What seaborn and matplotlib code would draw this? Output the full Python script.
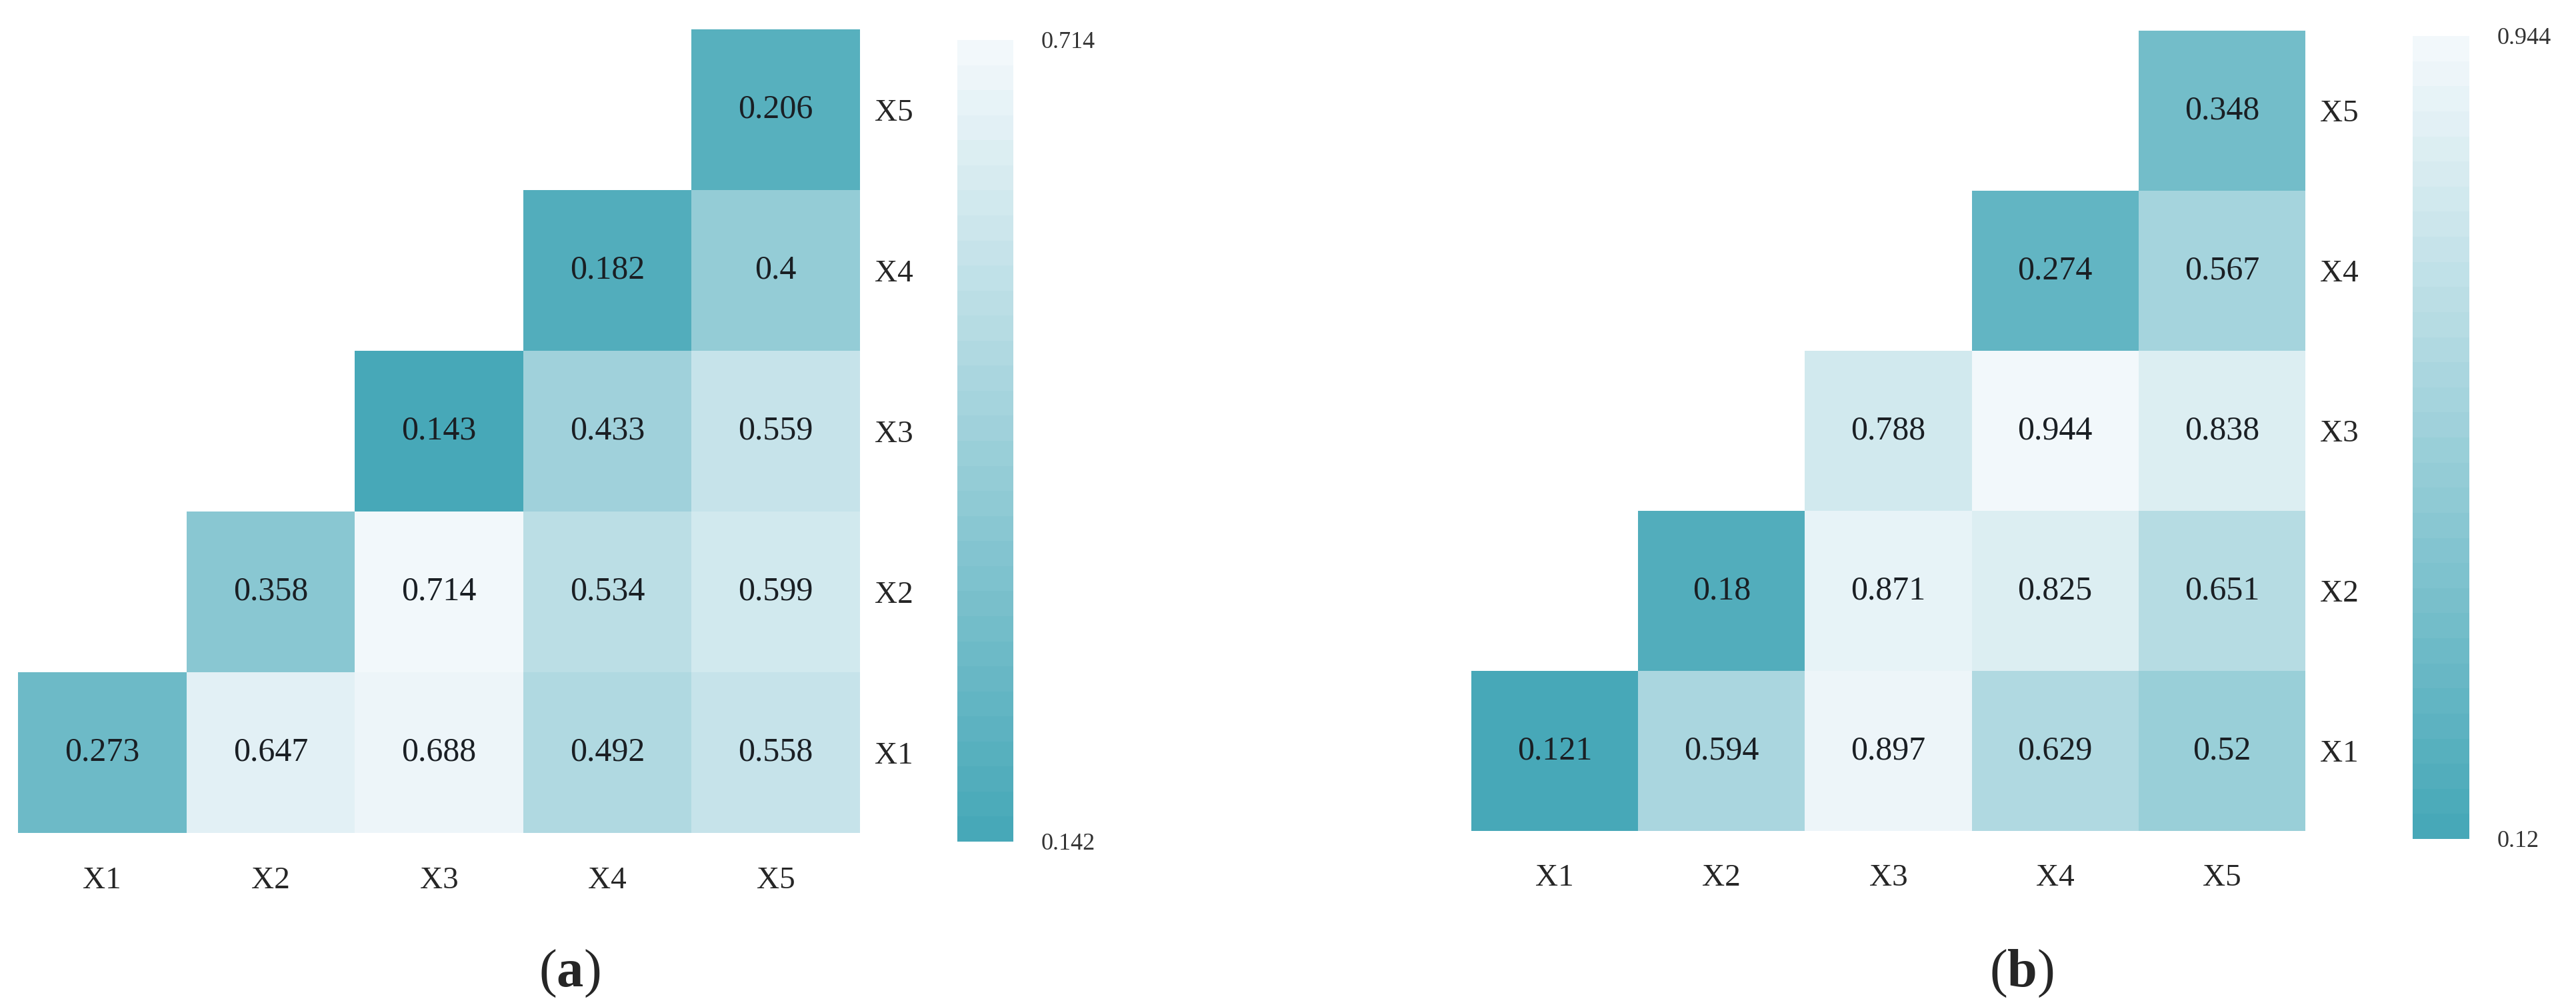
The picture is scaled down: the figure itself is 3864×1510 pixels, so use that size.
import numpy as np
import pandas as pd
import matplotlib
matplotlib.use("Agg")
import matplotlib.pyplot as plt
import seaborn as sns
from matplotlib.colors import ListedColormap

# Labels of the variables
labels = ["X1", "X2", "X3", "X4", "X5"]

# Upper triangle values, one list per row (row X1 first, starting at its diagonal)
values_a = [
    [0.273, 0.647, 0.688, 0.492, 0.558],
    [0.358, 0.714, 0.534, 0.599],
    [0.143, 0.433, 0.559],
    [0.182, 0.4],
    [0.206],
]
values_b = [
    [0.121, 0.594, 0.897, 0.629, 0.52],
    [0.18, 0.871, 0.825, 0.651],
    [0.788, 0.944, 0.838],
    [0.274, 0.567],
    [0.348],
]

# Colour bar limits
limits_a = [0.142, 0.714]
limits_b = [0.12, 0.944]

panel_letters = ["a", "b"]

W, H = 3864, 1510


def rect(x0, x1, y0, y1):
    """Pixel box (from top-left) to figure fraction"""
    return [x0 / W, (H - y1) / H, (x1 - x0) / W, (y1 - y0) / H]


def build_frame(rows):
    """Square frame with X5 on top and X1 at the bottom, NaN below diagonal"""
    n = len(labels)
    mat = np.full((n, n), np.nan)
    for i, row in enumerate(rows):
        mat[i, i:] = row
    df = pd.DataFrame(mat, index=labels, columns=labels)
    return df.iloc[::-1]


def plot_panel(fig, rows, limits, ax_rect, cbar_rect):
    df = build_frame(rows)
    ax = fig.add_axes(ax_rect)
    cax = fig.add_axes(cbar_rect)

    sns.heatmap(df, ax=ax, cbar_ax=cax, cmap=cmap,
                vmin=limits[0], vmax=limits[1], mask=df.isna(),
                annot=True, fmt="g", linewidths=0,
                annot_kws={"color": "#1a1f24", "fontsize": 36})

    # Row labels on the right side, columns below
    ax.yaxis.tick_right()
    ax.tick_params(axis="y", length=0, pad=16, labelsize=34, rotation=0)
    ax.tick_params(axis="x", length=0, pad=36, labelsize=34)
    ax.set_xlabel(None)
    ax.set_ylabel(None)

    # Colour bar with only min and max
    cbar = ax.collections[0].colorbar
    cbar.outline.set_visible(False)
    cbar.set_ticks(limits)
    cbar.set_ticklabels([f"{v:g}" for v in limits])
    cax.tick_params(length=0, pad=30, labelsize=26, colors="#333333")
    return ax, cax


sns.set_theme(style="white")
plt.rcParams["font.family"] = ["Liberation Serif", "DejaVu Serif"]
plt.rcParams["mathtext.fontset"] = "custom"
plt.rcParams["mathtext.rm"] = "Liberation Serif"
plt.rcParams["mathtext.bf"] = "Liberation Serif:bold"

# Banded teal to white colormap
cmap = ListedColormap(sns.blend_palette(["#47a8b8", "#f2f8fb"], n_colors=32))

fig = plt.figure(figsize=(38.64, 15.10), dpi=100)

plot_panel(fig, values_a, limits_a,
           rect(27, 1290, 44, 1249), rect(1436, 1520, 60, 1262))
plot_panel(fig, values_b, limits_b,
           rect(2207, 3458, 46, 1246), rect(3619, 3704, 54, 1258))

# Panel letters
for x, letter in zip([854, 3032], panel_letters):
    fig.text(x / W, 1 - 1460 / H, r"$(\mathbf{" + letter + r"})$",
             ha="center", va="center", fontsize=58)

plt.savefig("out.png", dpi=100)
